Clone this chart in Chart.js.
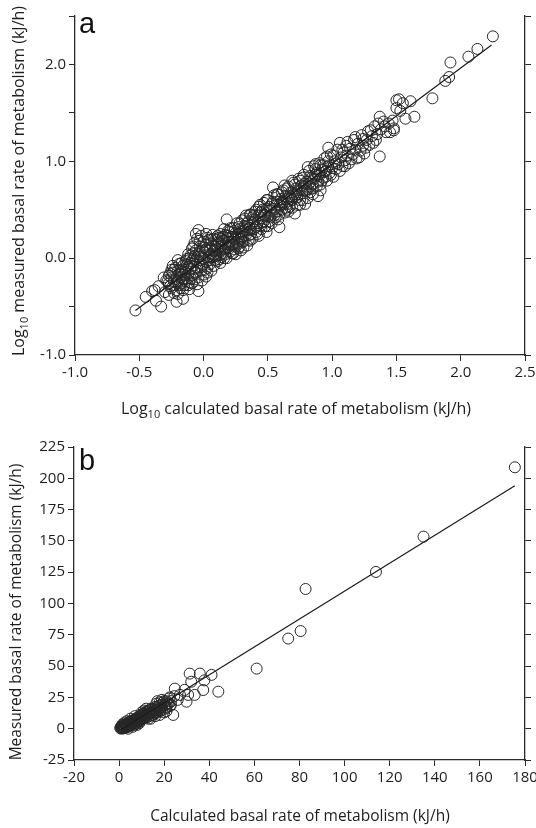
<!DOCTYPE html>
<html>
<head>
<meta charset="utf-8">
<script src="https://cdn.jsdelivr.net/npm/chart.js@4.4.0/dist/chart.umd.min.js"></script>
<style>
  html, body { margin: 0; padding: 0; background: #fff; }
  #wrap { position: relative; width: 536px; height: 828px; }
  canvas { position: absolute; left: 0; }
  #chartA { top: 0; }
  #chartB { top: 420px; }
</style>
</head>
<body>
<div id="wrap">
  <canvas id="chartA" width="536" height="420"></canvas>
  <canvas id="chartB" width="536" height="408"></canvas>
</div>
<script>
// panel a: log10 calculated vs log10 measured, [x, y]
const panelAPoints = [
  [-0.53,-0.54],[-0.45,-0.40],[-0.40,-0.34],[-0.38,-0.33],[-0.37,-0.44],[-0.35,-0.29],[-0.33,-0.50],[-0.31,-0.20],[-0.30,-0.35],[-0.29,-0.23],
  [-0.27,-0.26],[-0.27,-0.38],[-0.21,-0.45],[-0.16,-0.42],[-0.04,-0.34],
  [-0.28,-0.24],[-0.27,-0.18],[-0.26,-0.29],[-0.25,-0.20],[-0.25,-0.31],[-0.24,-0.15],[-0.23,-0.24],[-0.22,-0.10],[-0.22,-0.28],[-0.21,-0.19],
  [-0.20,-0.13],[-0.20,-0.25],[-0.19,-0.06],[-0.18,-0.20],[-0.18,-0.31],[-0.17,-0.14],[-0.16,-0.22],[-0.16,-0.08],[-0.15,-0.17],[-0.15,-0.28],
  [-0.14,-0.03],[-0.14,-0.12],[-0.13,-0.21],[-0.12,-0.09],[-0.12,-0.16],[-0.11,0.00],[-0.11,-0.25],[-0.10,-0.11],[-0.10,-0.05],[-0.09,-0.18],
  [-0.09,0.10],[-0.08,0.05],[-0.08,-0.08],[-0.07,0.16],[-0.07,-0.14],[-0.06,0.25],[-0.06,-0.02],[-0.05,0.20],[-0.05,-0.10],[-0.04,0.29],
  [-0.04,0.04],[-0.04,-0.20],[-0.03,0.12],[-0.03,-0.05],[-0.02,0.23],[-0.02,0.02],[-0.02,-0.13],[-0.01,0.08],[-0.01,-0.07],[0.00,0.17],
  [0.00,-0.01],[0.00,-0.17],[0.02,0.25],[0.01,0.06],[0.02,-0.04],[0.02,0.14],[0.03,0.21],[0.03,-0.10],[0.04,0.02],[-0.19,-0.16],
  [-0.23,-0.12],[-0.13,-0.07],[-0.08,-0.01],[-0.17,-0.26],[-0.06,-0.15],[-0.10,0.03],
  [-0.24,-0.08],[-0.21,-0.33],[-0.20,-0.02],[-0.18,-0.12],[-0.16,-0.33],[-0.14,-0.24],[-0.12,0.04],[-0.11,-0.32],[-0.09,-0.26],[-0.07,0.02],
  [-0.05,-0.27],[-0.03,0.18],[-0.01,-0.23],[0.01,0.11],[0.02,-0.19],[0.04,0.19],[0.06,-0.13],[0.07,0.13],[0.09,-0.02],[0.11,0.23],
  [-0.26,-0.16],[-0.23,-0.36],[-0.19,-0.28],[-0.13,-0.01],[-0.10,-0.21],[-0.06,0.08],[-0.02,-0.09],[0.01,-0.12],[0.03,0.08],[0.06,0.04],
  [-0.21,-0.24],[-0.17,-0.05],[-0.15,-0.21],[-0.12,-0.28],[-0.09,-0.03],[-0.07,-0.22],[-0.03,0.07],[-0.01,0.00],[0.03,-0.15],[-0.25,-0.12],
  [-0.20,-0.37],[-0.14,-0.15],[-0.08,0.12],
  [0.05,0.09],[0.05,-0.06],[0.06,0.15],[0.07,0.01],[0.07,0.24],[0.08,0.07],[0.08,-0.08],[0.09,0.12],[0.10,0.04],[0.10,0.19],
  [0.11,0.09],[0.11,-0.03],[0.12,0.15],[0.13,0.07],[0.13,0.25],[0.14,0.12],[0.14,0.01],[0.15,0.18],[0.16,0.09],[0.16,0.30],
  [0.17,0.14],[0.17,0.04],[0.18,0.40],[0.18,0.21],[0.19,0.11],[0.20,0.17],[0.20,0.27],[0.21,0.07],[0.22,0.22],[0.22,0.14],
  [0.23,0.31],[0.24,0.19],[0.24,0.09],[0.25,0.26],[0.26,0.16],[0.26,0.36],[0.27,0.22],[0.28,0.12],[0.28,0.30],[0.29,0.20],
  [0.30,0.39],[0.30,0.27],[0.31,0.17],[0.32,0.33],[0.33,0.24],[0.33,0.44],[0.34,0.29],[0.35,0.19],[0.35,0.38],[0.36,0.31],
  [0.37,0.45],[0.37,0.25],[0.38,0.36],[0.39,0.30],[0.40,0.48],[0.40,0.40],[0.41,0.27],[0.42,0.36],[0.43,0.53],[0.43,0.44],
  [0.44,0.33],[0.45,0.41],[0.46,0.50],[0.46,0.37],[0.47,0.57],[0.48,0.44],[0.48,0.33],[0.49,0.51],[0.50,0.43],[0.50,0.60],
  [0.12,0.21],[0.19,0.23],[0.27,0.15],[0.31,0.28],[0.38,0.42],[0.44,0.47],[0.09,0.02],[0.23,0.05],
  [0.13,-0.05],[0.15,0.05],[0.17,0.24],[0.18,0.00],[0.20,0.10],[0.21,0.31],[0.23,0.14],[0.25,0.04],[0.26,0.24],[0.28,0.36],
  [0.29,0.08],[0.31,0.22],[0.32,0.41],[0.34,0.13],[0.36,0.24],[0.36,0.45],[0.38,0.20],[0.39,0.38],[0.41,0.50],[0.42,0.25],
  [0.08,0.20],[0.12,-0.01],[0.14,0.20],[0.16,0.00],[0.19,0.16],[0.22,0.05],[0.24,0.28],[0.27,0.10],[0.30,0.17],[0.33,0.32],
  [0.02,0.09],[0.04,-0.02],[0.06,0.19],[0.09,0.08],[0.11,0.16],[0.13,0.03],[0.15,0.22],[0.17,0.10],[0.19,0.28],[0.21,0.13],
  [0.23,0.22],[0.25,0.12],[0.27,0.32],[0.29,0.25],[0.31,0.11],[0.34,0.36],[0.36,0.18],[0.39,0.44],[0.41,0.32],[0.43,0.23],
  [0.45,0.48],[0.47,0.38],[0.49,0.27],
  [0.44,0.55],[0.45,0.30],[0.47,0.45],[0.49,0.60],[0.50,0.33],
  [0.51,0.38],[0.52,0.49],[0.53,0.56],[0.53,0.45],[0.54,0.73],[0.55,0.51],[0.56,0.42],[0.57,0.58],[0.57,0.48],[0.58,0.66],
  [0.59,0.32],[0.59,0.55],[0.60,0.61],[0.61,0.50],[0.62,0.70],[0.62,0.58],[0.63,0.47],[0.64,0.64],[0.65,0.56],[0.66,0.74],
  [0.66,0.62],[0.67,0.53],[0.68,0.68],[0.69,0.60],[0.70,0.78],[0.70,0.66],[0.71,0.46],[0.72,0.72],[0.73,0.63],[0.74,0.82],
  [0.74,0.70],[0.75,0.60],[0.76,0.75],[0.77,0.67],[0.78,0.86],[0.78,0.74],[0.79,0.56],[0.80,0.79],[0.81,0.71],[0.82,0.90],
  [0.82,0.77],[0.83,0.68],[0.84,0.83],[0.85,0.76],[0.86,0.95],[0.86,0.82],[0.89,0.64],[0.88,0.88],[0.89,0.79],[0.90,0.98],
  [0.90,0.85],[0.91,0.76],[0.92,0.91],[0.93,0.83],[0.94,1.03],[0.95,0.90],[0.96,0.80],[0.97,0.95],[0.98,0.88],[0.99,1.07],
  [0.97,1.14],[0.64,0.52],[0.72,0.66],[0.80,0.69],[0.87,0.86],
  [0.52,0.42],[0.54,0.58],[0.55,0.65],[0.56,0.48],[0.58,0.40],[0.60,0.54],[0.61,0.68],[0.63,0.56],[0.65,0.72],[0.66,0.48],
  [0.68,0.61],[0.69,0.80],[0.71,0.64],[0.73,0.55],[0.75,0.80],[0.77,0.60],[0.79,0.77],[0.81,0.94],[0.83,0.74],[0.85,0.66],
  [0.87,0.92],[0.88,0.74],[0.91,0.96],[0.92,0.80],[0.94,0.89],[0.96,1.05],[0.99,0.86],
  [0.51,0.53],[0.53,0.36],[0.55,0.44],[0.57,0.66],[0.59,0.45],[0.61,0.58],[0.63,0.75],[0.65,0.50],[0.67,0.64],[0.69,0.52],
  [0.71,0.76],[0.73,0.68],[0.75,0.55],[0.77,0.83],[0.79,0.70],[0.81,0.62],[0.83,0.85],[0.85,0.72],[0.87,0.97],[0.89,0.86],
  [0.91,0.70],[0.93,0.96],[0.95,0.84],[0.97,1.00],
  [1.00,0.93],[1.01,0.84],[1.02,1.00],[1.03,0.92],[1.04,1.12],[1.05,0.97],[1.06,1.19],[1.07,1.04],[1.08,0.95],[1.09,1.09],
  [1.10,1.01],[1.11,1.16],[1.12,1.06],[1.13,0.98],[1.14,1.13],[1.16,1.07],[1.17,1.22],[1.18,1.12],[1.19,1.03],[1.20,1.18],
  [1.22,1.11],[1.23,1.27],[1.24,1.16],[1.25,1.08],[1.27,1.22],[1.28,1.31],[1.29,1.17],[1.31,1.26],[1.32,1.19],[1.33,1.36],
  [1.35,1.28],[1.37,1.05],[1.37,1.46],[1.38,1.33],[1.40,1.41],[1.42,1.30],[1.44,1.39],[1.48,1.32],[1.48,1.34],[1.50,1.55],
  [1.01,1.06],[1.03,0.98],[1.06,0.90],[1.08,1.12],[1.10,0.95],[1.12,1.20],[1.15,1.02],[1.18,1.25],[1.21,1.04],[1.24,1.23],
  [1.26,1.14],[1.30,1.32],[1.34,1.22],[1.36,1.39],[1.41,1.36],[1.45,1.30],[1.47,1.42],[1.53,1.52],
  [1.50,1.63],[1.52,1.64],[1.55,1.60],[1.57,1.44],[1.61,1.62],[1.64,1.46],[1.78,1.65],[1.88,1.83],[1.91,1.87],[1.92,2.02],
  [2.06,2.08],[2.13,2.16],[2.25,2.29]
];
const panelAFit = [[-0.53, -0.54], [2.24, 2.20]];
const xTicksA = [-1.0, -0.5, 0.0, 0.5, 1.0, 1.5, 2.0, 2.5];
const yTicksA = [-1.0, -0.5, 0.0, 0.5, 1.0, 1.5, 2.0, 2.5];
const yLabelsA = ['-1.0', '', '0.0', '', '1.0', '', '2.0', ''];

// panel b: calculated vs measured, kJ/h
const panelBPoints = [
  [1,1],[1.2,2],[1.5,0.5],[1.8,3],[2,1.5],[2.2,2.5],[2.5,0.8],[2.8,3.5],[3,2],[3.2,1],
  [3.5,4],[3.8,2.8],[4,3.5],[4.2,1.8],[4.5,5],[4.8,4],[5,2.5],[5.2,6],[5.5,4.5],[5.8,3.5],
  [6,6.5],[6.2,5],[6.5,3],[6.8,7],[7,5.5],[7.2,4.5],[7.5,8],[7.8,6.5],[8,5],[8.2,9],
  [8.5,7.5],[8.8,6],[9,10],[9.2,8],[9.5,6.5],[9.8,11],[10,9],[10.3,7.5],[10.6,12],[11,10],
  [11.3,8.5],[11.6,13],[12,11],[12.3,9],[12.7,14],[13,12],[13.4,10],[13.8,15],[14.2,12.5],[14.6,11],
  [15,16],[15.4,14],[15.8,12],[16.2,17.5],[16.6,15],[17,13],[17.4,18],[17.8,16],[18.2,14],[18.6,19],
  [19,17],[19.5,21],[20,18.5],[20.5,16],[21,22],[21.5,20],[22,24],[22.5,18],[23,22],[24,11],
  [0.5,0.5],[0.8,1.5],[1,0],[1.3,0.8],[1.6,1.8],[2,0.3],[2.3,1.2],[2.6,2],[3,3],[3.3,2.5],
  [3.6,1.5],[4,2.5],[4.4,3],[4.7,5.5],[5.3,3.5],[5.6,5],[6,4],[6.4,6],[6.7,5],[7,7.5],
  [7.4,6],[7.7,4],[8,7],[8.4,8],[8.7,5.5],[9.1,7],[9.4,9],[9.7,8],[10.2,10.5],[10.5,8.5],
  [10.8,11],[11.2,12],[11.5,9.5],[12,13.5],[12.5,10.5],[13,14],[13.5,12.5],[14,16],[14.5,13],[15,11],
  [15.5,15.5],[16,13.5],[16.5,20],[17,17],[17.5,15],[18,21],[18.5,17],[19,15],[20,22],[20.5,19],
  [21,17],[22,20],[22.5,25],[23,19],
  [1.5,3.5],[2.5,5],[3.5,6],[5,8],[4,0],[6,1.5],[8,3],[10,13],[12,16],[14,8],
  [16,10],[18,11],[20,13],[17,22],[19,23],[21,14],[7,10],[9,4.5],[11,14.5],[13,8]
,
  [24.5,26],[24.7,32],[26,23],[27,27],[29,31],[30.6,27],[29.9,21.6],[31.3,44],[32,37.5],[33.5,27],
  [35.8,44],[37.3,30.9],[37.8,38.6],[41,43],[44,29.6],
  [61,48],[75,72],[80.5,78],[82.7,111.6],[113.9,125.2],[135,153.4],[175.5,208.8]
];
const panelBFit = [[1, -0.5], [175.5, 194]];
const xTicksB = [-20, 0, 20, 40, 60, 80, 100, 120, 140, 160, 180];
const yTicksB = [-25, 0, 25, 50, 75, 100, 125, 150, 175, 200, 225];

const INK = '#2a2a2a';
const FONT = '"Open Sans", "DejaVu Sans", sans-serif';

function toXY(list) {
  return list.map(p => ({ x: p[0], y: p[1] }));
}

function setTicks(values) {
  return scale => { scale.ticks = values.map(v => ({ value: v })); };
}

function axis(position, min, max, values, label, size) {
  const horizontal = position === 'bottom';
  return {
    type: 'linear',
    position: position,
    min: min,
    max: max,
    afterBuildTicks: setTicks(values),
    afterFit: scale => {
      if (horizontal) {
        scale.height = size;
        scale.paddingLeft = 0;
        scale.paddingRight = 0;
      } else {
        scale.width = size;
        scale.paddingTop = 0;
        scale.paddingBottom = 0;
      }
    },
    grid: {
      drawOnChartArea: false,
      drawTicks: true,
      tickLength: 6,
      color: INK,
      lineWidth: 1
    },
    border: { display: true, color: INK, width: 1.3 },
    ticks: {
      autoSkip: false,
      maxRotation: 0,
      padding: 3,
      color: '#1e1e1e',
      font: { family: FONT, size: 15 },
      callback: label
    }
  };
}

// axis titles with a subscript part, drawn as text
function drawTitle(ctx, parts, cx, cy, vertical, size) {
  ctx.save();
  ctx.translate(cx, cy);
  if (vertical) ctx.rotate(-Math.PI / 2);
  ctx.fillStyle = '#1e1e1e';
  ctx.textBaseline = 'alphabetic';
  ctx.textAlign = 'left';
  const main = size + 'px ' + FONT;
  const sub = Math.round(size * 0.7) + 'px ' + FONT;
  let total = 0;
  parts.forEach(p => {
    ctx.font = p.sub ? sub : main;
    p.w = ctx.measureText(p.text).width;
    total += p.w;
  });
  let x = -total / 2;
  parts.forEach(p => {
    ctx.font = p.sub ? sub : main;
    ctx.fillText(p.text, x, p.sub ? 4 : 0);
    x += p.w;
  });
  ctx.restore();
}

function titlesPlugin(opts) {
  return {
    id: 'titles',
    afterDraw(chart) {
      const ctx = chart.ctx;
      drawTitle(ctx, opts.xTitle, opts.xPos[0], opts.xPos[1], false, opts.size);
      drawTitle(ctx, opts.yTitle, opts.yPos[0], opts.yPos[1], true, opts.size);
      ctx.save();
      ctx.fillStyle = '#111';
      ctx.font = '29px "Liberation Sans", Arial, sans-serif';
      ctx.fillText(opts.letter, opts.letterPos[0], opts.letterPos[1]);
      ctx.restore();
    }
  };
}

function makeChart(id, points, fit, cfg) {
  return new Chart(document.getElementById(id), {
    type: 'scatter',
    data: {
      datasets: [
        {
          type: 'line',
          data: toXY(fit),
          borderColor: '#1a1a1a',
          borderWidth: 1.2,
          pointRadius: 0,
          order: 0
        },
        {
          data: toXY(points),
          pointStyle: 'circle',
          pointRadius: 5.5,
          pointBorderWidth: 1,
          pointBorderColor: '#262626',
          pointBackgroundColor: 'rgba(0,0,0,0)',
          order: 1
        }
      ]
    },
    options: {
      responsive: false,
      animation: false,
      devicePixelRatio: 1,
      layout: { padding: { top: cfg.top, left: 0, right: 0, bottom: 0 } },
      plugins: { legend: { display: false }, tooltip: { enabled: false } },
      scales: cfg.scales
    },
    plugins: [titlesPlugin(cfg.titles)]
  });
}

makeChart('chartA', panelAPoints, panelAFit, {
  top: 16,
  scales: {
    x: axis('bottom', -1, 2.5, xTicksA, v => v.toFixed(1), 65),
    y: axis('left', -1, 2.5, yTicksA, (v, i) => yLabelsA[i], 75),
    y2: axis('right', -1, 2.5, yTicksA, () => '', 11)
  },
  titles: {
    xTitle: [{ text: 'Log' }, { text: '10', sub: true }, { text: ' calculated basal rate of metabolism (kJ/h)' }],
    xPos: [296, 414],
    yTitle: [{ text: 'Log' }, { text: '10', sub: true }, { text: ' measured basal rate of metabolism (kJ/h)' }],
    yPos: [24, 181],
    size: 16,
    letter: 'a',
    letterPos: [79, 33]
  }
});

makeChart('chartB', panelBPoints, panelBFit, {
  top: 27,
  scales: {
    x: axis('bottom', -20, 180, xTicksB, v => String(v), 68),
    y: axis('left', -25, 225, yTicksB, v => String(v), 74),
    y2: axis('right', -25, 225, yTicksB, () => '', 11)
  },
  titles: {
    xTitle: [{ text: 'Calculated basal rate of metabolism (kJ/h)' }],
    xPos: [300, 401],
    yTitle: [{ text: 'Measured basal rate of metabolism (kJ/h)' }],
    yPos: [21, 192],
    size: 15.5,
    letter: 'b',
    letterPos: [79, 50]
  }
});
</script>
</body>
</html>
